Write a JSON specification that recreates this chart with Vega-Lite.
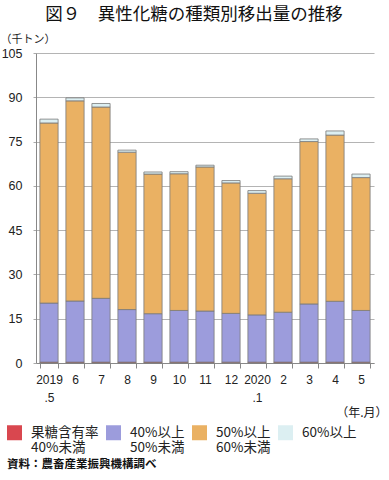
{
  "$schema": "https://vega.github.io/schema/vega-lite/v6.json",
  "width": 338,
  "height": 310,
  "autosize": {"type": "none"},
  "padding": {"left": 36, "top": 53, "right": 15, "bottom": 117},
  "background": "white",
  "title": {
    "text": "図９　異性化糖の種類別移出量の推移",
    "font": "Noto Sans CJK JP",
    "fontSize": 17.5,
    "fontWeight": "normal",
    "color": "#111",
    "anchor": "middle",
    "frame": "group",
    "dx": -11,
    "offset": 10
  },
  "config": {
    "view": {"stroke": null},
    "font": "Liberation Sans, Noto Sans CJK JP",
    "axis": {"labelColor": "#222", "titleColor": "#222"}
  },
  "data": {
    "values": [
      {"m": "2019|.5", "t": "果糖含有率|40%未満", "o": 1, "v": 0.3},
      {"m": "2019|.5", "t": "40%以上|50%未満", "o": 2, "v": 20.0},
      {"m": "2019|.5", "t": "50%以上|60%未満", "o": 3, "v": 61.0},
      {"m": "2019|.5", "t": "60%以上", "o": 4, "v": 1.3},
      {"m": "6", "t": "果糖含有率|40%未満", "o": 1, "v": 0.3},
      {"m": "6", "t": "40%以上|50%未満", "o": 2, "v": 20.7},
      {"m": "6", "t": "50%以上|60%未満", "o": 3, "v": 67.8},
      {"m": "6", "t": "60%以上", "o": 4, "v": 1.0},
      {"m": "7", "t": "果糖含有率|40%未満", "o": 1, "v": 0.3},
      {"m": "7", "t": "40%以上|50%未満", "o": 2, "v": 21.6},
      {"m": "7", "t": "50%以上|60%未満", "o": 3, "v": 64.8},
      {"m": "7", "t": "60%以上", "o": 4, "v": 1.2},
      {"m": "8", "t": "果糖含有率|40%未満", "o": 1, "v": 0.3},
      {"m": "8", "t": "40%以上|50%未満", "o": 2, "v": 17.8},
      {"m": "8", "t": "50%以上|60%未満", "o": 3, "v": 53.3},
      {"m": "8", "t": "60%以上", "o": 4, "v": 0.7},
      {"m": "9", "t": "果糖含有率|40%未満", "o": 1, "v": 0.3},
      {"m": "9", "t": "40%以上|50%未満", "o": 2, "v": 16.4},
      {"m": "9", "t": "50%以上|60%未満", "o": 3, "v": 47.3},
      {"m": "9", "t": "60%以上", "o": 4, "v": 0.7},
      {"m": "10", "t": "果糖含有率|40%未満", "o": 1, "v": 0.3},
      {"m": "10", "t": "40%以上|50%未満", "o": 2, "v": 17.5},
      {"m": "10", "t": "50%以上|60%未満", "o": 3, "v": 46.3},
      {"m": "10", "t": "60%以上", "o": 4, "v": 0.7},
      {"m": "11", "t": "果糖含有率|40%未満", "o": 1, "v": 0.3},
      {"m": "11", "t": "40%以上|50%未満", "o": 2, "v": 17.3},
      {"m": "11", "t": "50%以上|60%未満", "o": 3, "v": 48.8},
      {"m": "11", "t": "60%以上", "o": 4, "v": 0.6},
      {"m": "12", "t": "果糖含有率|40%未満", "o": 1, "v": 0.3},
      {"m": "12", "t": "40%以上|50%未満", "o": 2, "v": 16.5},
      {"m": "12", "t": "50%以上|60%未満", "o": 3, "v": 44.2},
      {"m": "12", "t": "60%以上", "o": 4, "v": 0.8},
      {"m": "2020|.1", "t": "果糖含有率|40%未満", "o": 1, "v": 0.3},
      {"m": "2020|.1", "t": "40%以上|50%未満", "o": 2, "v": 16.0},
      {"m": "2020|.1", "t": "50%以上|60%未満", "o": 3, "v": 41.2},
      {"m": "2020|.1", "t": "60%以上", "o": 4, "v": 0.9},
      {"m": "2", "t": "果糖含有率|40%未満", "o": 1, "v": 0.3},
      {"m": "2", "t": "40%以上|50%未満", "o": 2, "v": 16.9},
      {"m": "2", "t": "50%以上|60%未満", "o": 3, "v": 45.2},
      {"m": "2", "t": "60%以上", "o": 4, "v": 0.9},
      {"m": "3", "t": "果糖含有率|40%未満", "o": 1, "v": 0.3},
      {"m": "3", "t": "40%以上|50%未満", "o": 2, "v": 19.7},
      {"m": "3", "t": "50%以上|60%未満", "o": 3, "v": 55.0},
      {"m": "3", "t": "60%以上", "o": 4, "v": 0.9},
      {"m": "4", "t": "果糖含有率|40%未満", "o": 1, "v": 0.3},
      {"m": "4", "t": "40%以上|50%未満", "o": 2, "v": 20.6},
      {"m": "4", "t": "50%以上|60%未満", "o": 3, "v": 56.3},
      {"m": "4", "t": "60%以上", "o": 4, "v": 1.4},
      {"m": "5", "t": "果糖含有率|40%未満", "o": 1, "v": 0.3},
      {"m": "5", "t": "40%以上|50%未満", "o": 2, "v": 17.5},
      {"m": "5", "t": "50%以上|60%未満", "o": 3, "v": 45.0},
      {"m": "5", "t": "60%以上", "o": 4, "v": 1.2}
    ]
  },
  "mark": {"type": "bar", "stroke": "#7a7a7a", "strokeWidth": 0.8},
  "encoding": {
    "x": {
      "field": "m",
      "type": "nominal",
      "sort": null,
      "scale": {"paddingInner": 0.3, "paddingOuter": 0.15},
      "axis": {
        "labelExpr": "isValid(datum.value) ? split(datum.value, '|') : ''",
        "labelAngle": 0,
        "labelFontSize": 12,
        "labelPadding": 6,
        "labelLineHeight": 18,
        "labelBaseline": "top",
        "tickBand": "extent",
        "tickColor": "#888",
        "tickSize": 5,
        "domainColor": "#888",
        "title": "（年.月）",
        "titleFont": "Noto Sans CJK JP",
        "titleFontSize": 12,
        "titleFontWeight": "normal",
        "titleAnchor": null,
        "titleAlign": "right",
        "titleBaseline": "middle",
        "titleX": 351,
        "titleY": 49
      }
    },
    "y": {
      "field": "v",
      "type": "quantitative",
      "aggregate": "sum",
      "stack": "zero",
      "scale": {"domain": [0, 105], "nice": false},
      "axis": {
        "values": [0, 15, 30, 45, 60, 75, 90, 105],
        "labelFontSize": 12.5,
        "labelPadding": 11,
        "tickSize": 3,
        "tickColor": "#aaa",
        "gridColor": "#b4b4b4",
        "gridWidth": 1.2,
        "domainColor": "#888",
        "title": "（千トン）",
        "titleFont": "Noto Sans CJK JP",
        "titleFontSize": 11,
        "titleFontWeight": "normal",
        "titleAngle": 0,
        "titleAlign": "left",
        "titleBaseline": "middle",
        "titleAnchor": null,
        "titleX": -36,
        "titleY": -14
      }
    },
    "color": {
      "field": "t",
      "type": "nominal",
      "scale": {
        "domain": ["果糖含有率|40%未満", "40%以上|50%未満", "50%以上|60%未満", "60%以上"],
        "range": ["#d9474f", "#9c9cdc", "#eab163", "#dceff2"]
      },
      "legend": {
        "orient": "none",
        "legendX": -29,
        "legendY": 372,
        "direction": "horizontal",
        "columns": 4,
        "columnPadding": 7,
        "symbolType": "square",
        "symbolSize": 225,
        "symbolStrokeWidth": 0,
        "labelExpr": "datum.value == '60%以上' ? ['60%以上', ' '] : split(datum.value, '|')",
        "labelFont": "Noto Sans CJK JP",
        "labelFontSize": 13.5,
        "labelColor": "#222",
        "labelOffset": 9,
        "labelLimit": 200,
        "encode": {"labels": {"update": {"lineHeight": {"value": 16}}}},
        "title": "資料：農畜産業振興機構調べ",
        "titleOrient": "bottom",
        "titleAnchor": "start",
        "titleFont": "Noto Sans CJK JP",
        "titleFontSize": 11.5,
        "titleFontWeight": "bold",
        "titleColor": "#111",
        "titlePadding": 4
      }
    },
    "order": {"field": "o", "type": "quantitative"}
  }
}
